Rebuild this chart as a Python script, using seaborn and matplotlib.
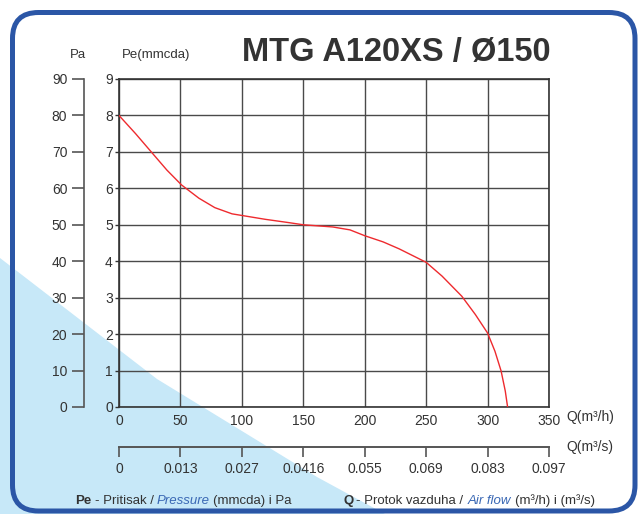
import matplotlib
matplotlib.use("Agg")
import matplotlib.pyplot as plt
import seaborn as sns
from matplotlib.patches import FancyBboxPatch, Polygon

# ---- data ----
q_m3h = [0, 13.5, 27, 39, 51, 65, 78, 92, 101, 119, 138, 150, 174, 188, 200, 215, 228,
         250, 263, 279, 290, 300, 306, 311, 314.4, 316.3]
pe_mmcda = [8.0, 7.5, 6.97, 6.5, 6.09, 5.73, 5.47, 5.30, 5.25, 5.15, 5.06, 5.0, 4.94, 4.86,
            4.70, 4.53, 4.34, 3.97, 3.59, 3.04, 2.54, 2.03, 1.53, 0.99, 0.44, 0.0]
x_ticks = [0, 50, 100, 150, 200, 250, 300, 350]
x_tick_labels = ["0", "50", "100", "150", "200", "250", "300", "350"]
q_m3s_labels = ["0", "0.013", "0.027", "0.0416", "0.055", "0.069", "0.083", "0.097"]
pe_ticks = list(range(0, 10))
pa_ticks = list(range(0, 100, 10))
title = "MTG A120XS / Ø150"

sns.set_theme(style="white")
plt.rcParams["font.family"] = ["Liberation Sans", "DejaVu Sans"]
TXT = "#333333"

W, H = 640, 514
fig = plt.figure(figsize=(W / 100, H / 100), dpi=100)
fig.patch.set_facecolor("white")

def P(px, py):
    return (px / 100, (H - py) / 100)

# light blue triangle
tri = Polygon([P(0, 258), P(157, 379), P(317, 477), P(385, 514), P(0, 514)],
              closed=True, transform=fig.dpi_scale_trans, facecolor="#C7E8F8",
              edgecolor="none", zorder=-2)
fig.patches.append(tri)

# rounded border
bx0, by0 = P(12.5, 511)
border = FancyBboxPatch((bx0, by0), 6.225, (511 - 12.5) / 100,
                        boxstyle="round,pad=0,rounding_size=0.26",
                        transform=fig.dpi_scale_trans, facecolor="none",
                        edgecolor="#2B56A6", linewidth=3.6, zorder=-1)
fig.patches.append(border)

# main axes
L, R, T, B = 119, 549, 79, 407
ax = fig.add_axes([L / W, (H - B) / H, (R - L) / W, (B - T) / H])
ax.set_facecolor("none")
sns.lineplot(x=q_m3h, y=pe_mmcda, ax=ax, color="#EE2A2E", linewidth=1.0, zorder=3)
ax.set_xlim(0, 350)
ax.set_ylim(0, 9)
ax.set_xticks(x_ticks)
ax.set_xticklabels(x_tick_labels)
ax.set_yticks(pe_ticks)
ax.grid(True, color="#4a4a4a", linewidth=1.0)
ax.set_axisbelow(True)
for s in ax.spines.values():
    s.set_color("#333333")
    s.set_linewidth(1.2)
ax.tick_params(axis="x", length=0, pad=5, labelsize=10, labelcolor=TXT)
ax.tick_params(axis="y", left=True, length=3, width=1, color="#333333", pad=1.5,
               labelsize=10, labelcolor=TXT)
ax.set_xlabel("")
ax.set_ylabel("")

# Pa axis
axp = fig.add_axes([84 / W, (H - B) / H, 0.002, (B - T) / H])
axp.set_facecolor("none")
axp.set_ylim(0, 90)
axp.set_yticks(pa_ticks)
axp.set_xticks([])
for k in ["top", "right", "bottom"]:
    axp.spines[k].set_visible(False)
axp.spines["left"].set_color("#555555")
axp.spines["left"].set_linewidth(1.2)
axp.tick_params(axis="y", left=True, length=9, width=1.2, color="#555555", pad=3,
                labelsize=10, labelcolor=TXT)
axp.grid(False)

# secondary x axis (m3/s)
axs = fig.add_axes([L / W, (H - 447) / H, (R - L) / W, 0.002])
axs.set_facecolor("none")
axs.set_xlim(0, 350)
axs.set_xticks(x_ticks)
axs.set_xticklabels(q_m3s_labels)
axs.set_yticks([])
for k in ["top", "right", "left"]:
    axs.spines[k].set_visible(False)
axs.spines["bottom"].set_color("#555555")
axs.spines["bottom"].set_linewidth(1.4)
axs.tick_params(axis="x", bottom=True, length=7, width=1.2, color="#555555", pad=4,
                labelsize=10, labelcolor=TXT)
axs.grid(False)

def ftext(px, py, s, **kw):
    x, y = P(px, py)
    return fig.text(x, y, s, transform=fig.dpi_scale_trans, **kw)

ftext(396, 53, title, fontsize=23.5, fontweight="bold", color=TXT, ha="center", va="center")
ftext(78, 55, "Pa", fontsize=9.5, color=TXT, ha="center", va="center")
ftext(156, 55, "Pe(mmcda)", fontsize=9.5, color=TXT, ha="center", va="center")
ftext(566, 417, "Q(m³/h)", fontsize=10, color=TXT, ha="left", va="center")
ftext(566, 447, "Q(m³/s)", fontsize=10, color=TXT, ha="left", va="center")

BL = 504
parts = [
    (75, "Pe", dict(fontweight="bold", color=TXT)),
    (95, "- Pritisak /", dict(color=TXT)),
    (157, "Pressure", dict(style="italic", color="#3A68B4")),
    (213, "(mmcda) i Pa", dict(color=TXT)),
    (343, "Q", dict(fontweight="bold", color=TXT)),
    (356, "- Protok vazduha /", dict(color=TXT)),
    (468, "Air flow", dict(style="italic", color="#3A68B4")),
    (515, "(m³/h) i (m³/s)", dict(color=TXT)),
]
for px, s, kw in parts:
    ftext(px, BL, s, fontsize=9.5, ha="left", va="baseline", **kw)

fig.savefig("out.png", dpi=100)
